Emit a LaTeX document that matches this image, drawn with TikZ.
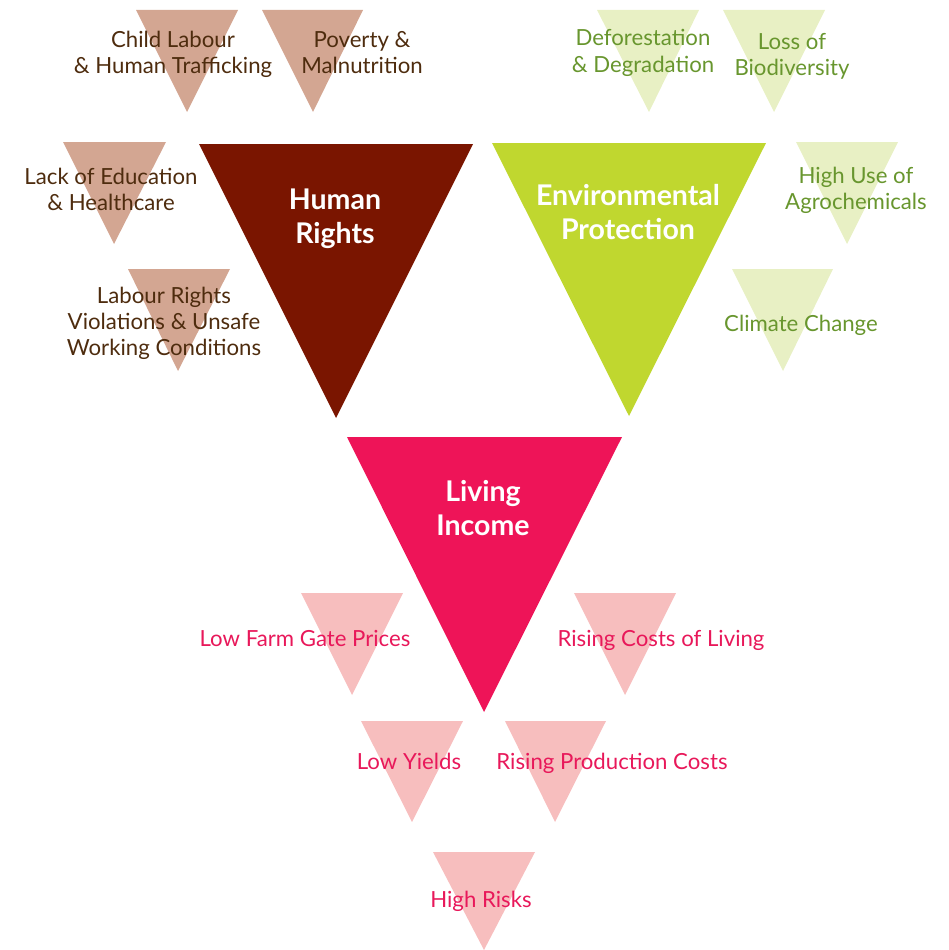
\documentclass[tikz,border=0pt]{standalone}
\usepackage{fontspec}
\setmainfont{Lato}
\definecolor{brsm}{RGB}{211,166,146}
\definecolor{brbig}{RGB}{122,21,0}
\definecolor{brtxt}{RGB}{78,44,14}
\definecolor{grsm}{RGB}{232,240,196}
\definecolor{grbig}{RGB}{192,215,47}
\definecolor{grtxt}{RGB}{104,150,46}
\definecolor{pksm}{RGB}{247,190,190}
\definecolor{pkbig}{RGB}{238,20,88}
\definecolor{pktxt}{RGB}{232,24,90}
\newcommand\lines[1]{\begin{tabular}[t]{@{}c@{}}#1\end{tabular}}
\tikzset{
  lbl/.style={anchor=base, inner sep=0pt, font=\fontsize{22.2}{26}\selectfont},
  big/.style={anchor=base, inner sep=0pt, text=white, font=\fontsize{28.5}{34}\selectfont\bfseries},
}
\begin{document}
\begin{tikzpicture}[x=1pt,y=-1pt]
\useasboundingbox (0,0) rectangle (948,950);
% brown
\fill[brsm] (136,10) -- (238,10) -- (187,112) -- cycle;
\fill[brsm] (262,10) -- (363,10) -- (313,112) -- cycle;
\fill[brsm] (63,142) -- (166,142) -- (114,244) -- cycle;
\fill[brsm] (128,269) -- (230,269) -- (178,371) -- cycle;
\fill[brbig] (199,144) -- (473,144) -- (336,418) -- cycle;
% green
\fill[grsm] (597,10) -- (699,10) -- (649,112) -- cycle;
\fill[grsm] (723,10) -- (825,10) -- (774,112) -- cycle;
\fill[grsm] (796,142) -- (898,142) -- (847,244) -- cycle;
\fill[grsm] (732,269) -- (833,269) -- (783,371) -- cycle;
\fill[grbig] (492,143) -- (766,143) -- (629,416) -- cycle;
% pink
\fill[pksm] (301,593) -- (403,593) -- (352,695) -- cycle;
\fill[pksm] (574,593) -- (676,593) -- (625,695) -- cycle;
\fill[pksm] (361,721) -- (463,721) -- (412,822) -- cycle;
\fill[pksm] (505,721) -- (606,721) -- (555,822) -- cycle;
\fill[pksm] (433,852) -- (535,852) -- (484,950) -- cycle;
\fill[pkbig] (347,437) -- (622,437) -- (484,712) -- cycle;
% brown texts
\node[lbl,text=brtxt] (child) at (173,48) {\lines{Child Labour\\\& Human Trafficking}};
\node[lbl,text=brtxt] (poverty) at (362,48) {\lines{Poverty \&\\Malnutrition}};
\node[lbl,text=brtxt] (lack) at (111,184) {\lines{Lack of Education\\\& Healthcare}};
\node[lbl,text=brtxt] (labour) at (164,303) {\lines{Labour Rights\\Violations \& Unsafe\\Working Conditions}};
\node[big] (human) at (335,209) {\lines{Human\\Rights}};
% green texts
\node[lbl,text=grtxt] (defor) at (643,46) {\lines{Deforestation\\\& Degradation}};
\node[lbl,text=grtxt] (loss) at (792,49) {\lines{Loss of\\Biodiversity}};
\node[lbl,text=grtxt] (agro) at (856,183) {\lines{High Use of\\Agrochemicals}};
\node[lbl,text=grtxt] (climate) at (801,331) {Climate Change};
\node[big] (env) at (628,205) {\lines{Environmental\\Protection}};
% pink texts
\node[big] (living) at (483,501) {\lines{Living\\Income}};
\node[lbl,text=pktxt] (farm) at (305,646) {Low Farm Gate Prices};
\node[lbl,text=pktxt] (costs) at (661,646) {Rising Costs of Living};
\node[lbl,text=pktxt] (yields) at (409,769) {Low Yields};
\node[lbl,text=pktxt] (prod) at (612,769) {Rising Production Costs};
\node[lbl,text=pktxt] (risks) at (481,907) {High Risks};
\end{tikzpicture}
\end{document}
